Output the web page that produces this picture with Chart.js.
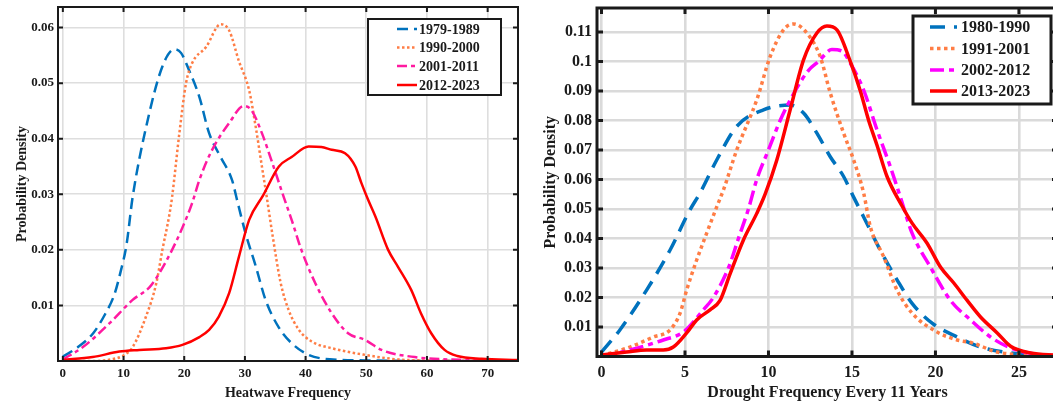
<!DOCTYPE html>
<html>
<head>
<meta charset="utf-8">
<script src="https://cdn.jsdelivr.net/npm/chart.js@4.4.1/dist/chart.umd.min.js"></script>
<style>
  html, body { margin: 0; padding: 0; background: #fff; overflow: hidden; width: 1053px; height: 404px; }
  #hwChart { position: absolute; left: 0; top: 0; }
  #drChart { position: absolute; left: 530px; top: 0; }
</style>
</head>
<body>
<canvas id="hwChart" width="530" height="404"></canvas>
<canvas id="drChart" width="530" height="404"></canvas>
<script>
// ---- left panel: heatwave frequency ----
const hwLabels = ['1979-1989', '1990-2000', '2001-2011', '2012-2023'];
const hwXTicks = [0, 10, 20, 30, 40, 50, 60, 70];
const hwYTicks = [0.01, 0.02, 0.03, 0.04, 0.05, 0.06];

const hw1X = [0, 2.5, 5, 7, 8.5, 9.5, 10.5, 11.5, 13.7, 16.4, 18.4, 19.5, 20.8, 22.5, 24.1, 26, 27.9, 28.7, 30.1, 31.8, 33.4, 35.6, 37.7, 40.5, 44, 50, 60, 75];
const hw1Y = [0.0008, 0.0025, 0.005, 0.0085, 0.012, 0.016, 0.021, 0.0295, 0.042, 0.053, 0.0561, 0.0554, 0.0523, 0.0475, 0.041, 0.0367, 0.0325, 0.029, 0.023, 0.017, 0.011, 0.006, 0.0032, 0.0011, 0.0003, 0.0001, 0, 0];

const hw2X = [0, 5, 8, 10, 11.5, 13.7, 15.4, 16.4, 17.5, 18, 19.2, 20.3, 21.3, 23.6, 26, 27.4, 29, 30.7, 31.8, 32.8, 33.6, 34.5, 35.9, 37.2, 38.9, 41, 44.3, 49.8, 55, 60, 75];
const hw2Y = [0, 0, 0.0003, 0.001, 0.0025, 0.008, 0.014, 0.02, 0.026, 0.0295, 0.041, 0.05, 0.0536, 0.0565, 0.0606, 0.0595, 0.054, 0.0487, 0.042, 0.035, 0.0295, 0.023, 0.014, 0.0092, 0.0056, 0.0035, 0.0023, 0.0011, 0.0003, 0.0001, 0];

const hw3X = [0, 3.3, 7.7, 11.5, 14.3, 15.9, 18, 19.7, 21.3, 22.5, 24.6, 27.4, 29.8, 31.1, 32.8, 34.4, 36.4, 37.7, 39.3, 41.6, 44.3, 47, 49.8, 52.5, 58, 66, 75];
const hw3Y = [0.0003, 0.0025, 0.0068, 0.011, 0.0133, 0.0158, 0.02, 0.024, 0.0284, 0.0326, 0.038, 0.0428, 0.0459, 0.0451, 0.041, 0.036, 0.0295, 0.0254, 0.02, 0.014, 0.0086, 0.005, 0.0038, 0.002, 0.0007, 0.0002, 0];

const hw4X = [0, 4.9, 9.3, 12.6, 17, 19.7, 22.5, 24.1, 25.7, 27.4, 29, 30.7, 33, 35.6, 37.7, 40.5, 42.6, 44.3, 46.5, 48.2, 49.2, 50.3, 51.5, 53.6, 55.2, 57.4, 59, 60.7, 62.9, 65, 69, 75];
const hw4Y = [0.0002, 0.0007, 0.0017, 0.002, 0.0023, 0.0029, 0.0043, 0.0056, 0.008, 0.0122, 0.0187, 0.0254, 0.0298, 0.035, 0.0367, 0.0386, 0.0385, 0.038, 0.0374, 0.035, 0.032, 0.029, 0.026, 0.02, 0.017, 0.0128, 0.0086, 0.005, 0.002, 0.0009, 0.0004, 0.0002];

// ---- right panel: drought frequency ----
const drLabels = ['1980-1990', '1991-2001', '2002-2012', '2013-2023'];
const drXTicks = [0, 5, 10, 15, 20, 25];
const drYTicks = [0.01, 0.02, 0.03, 0.04, 0.05, 0.06, 0.07, 0.08, 0.09, 0.1, 0.11];

const dr1X = [0, 1.1, 2.7, 4.1, 5.3, 5.9, 6.9, 8.1, 9.7, 11.3, 12.1, 12.9, 13.7, 14.5, 15.1, 15.7, 16.7, 17.7, 18.6, 19.8, 21.3, 22.7, 24.1, 27.3];
const dr1Y = [0.0015, 0.009, 0.0225, 0.036, 0.0497, 0.0554, 0.0666, 0.078, 0.0836, 0.0852, 0.0825, 0.0757, 0.0677, 0.061, 0.054, 0.0473, 0.036, 0.026, 0.018, 0.0113, 0.0066, 0.0032, 0.0015, 0.0002];

const dr2X = [0, 1.7, 3.1, 4.1, 4.7, 5.1, 5.7, 6.3, 6.9, 7.3, 8.1, 9.3, 10.1, 10.9, 11.5, 12.3, 13.1, 13.7, 14.5, 15.1, 15.7, 16.1, 16.9, 17.7, 18.6, 20.1, 21.3, 22.2, 23.7, 25.6, 27.3];
const dr2Y = [0.0003, 0.0032, 0.0066, 0.009, 0.0146, 0.0225, 0.0327, 0.0418, 0.0507, 0.0564, 0.07, 0.087, 0.1016, 0.1107, 0.1127, 0.1096, 0.1016, 0.0893, 0.0757, 0.0666, 0.0554, 0.044, 0.0338, 0.0225, 0.0147, 0.0083, 0.0056, 0.0046, 0.0015, 0.0005, 0.0001];

const dr3X = [0, 1.7, 3.7, 4.9, 6.1, 6.7, 7.6, 8.2, 8.8, 9.3, 10.0, 10.7, 11.6, 12.4, 13.0, 13.8, 14.4, 14.9, 15.7, 16.5, 17.3, 17.9, 18.6, 19.7, 20.9, 22.1, 23.3, 24.5, 26, 27.3];
const dr3Y = [0, 0.0022, 0.0056, 0.0083, 0.0158, 0.02, 0.03, 0.04, 0.05, 0.06, 0.07, 0.08, 0.09, 0.097, 0.1, 0.104, 0.1035, 0.0994, 0.0903, 0.0768, 0.0643, 0.054, 0.0418, 0.0303, 0.019, 0.0124, 0.0066, 0.0029, 0.0008, 0.0002];

const dr4X = [0, 1.5, 2.7, 3.7, 4.3, 5.1, 5.7, 6.5, 7.1, 7.7, 8.5, 9.3, 9.8, 10.5, 11.3, 12.1, 12.9, 13.5, 14.1, 14.9, 15.5, 16.0, 16.5, 17.1, 18.0, 18.6, 19.5, 20.3, 21.1, 21.9, 22.7, 23.7, 24.5, 25.7, 27.3];
const dr4Y = [0.0005, 0.0015, 0.0022, 0.0022, 0.0032, 0.008, 0.0124, 0.0158, 0.019, 0.028, 0.0395, 0.0485, 0.055, 0.0666, 0.0836, 0.1005, 0.1096, 0.112, 0.1107, 0.1, 0.09, 0.08, 0.0716, 0.061, 0.051, 0.0452, 0.0384, 0.0303, 0.0249, 0.019, 0.0134, 0.008, 0.0035, 0.0012, 0.0004];

const serif = 'Liberation Serif';
const inkColor = '#1a1a1a';

function pts(xs, ys) {
    return xs.map((x, i) => ({ x: x, y: ys[i] }));
}

function line(label, xs, ys, color, dash, width, order) {
    return {
        label: label,
        data: pts(xs, ys),
        borderColor: color,
        borderDash: dash,
        borderWidth: width,
        borderCapStyle: 'butt',
        pointRadius: 0,
        fill: false,
        cubicInterpolationMode: 'monotone',
        order: order
    };
}

// matlab style box with inward ticks on all sides
function boxPlugin(frameWidth, tickLen) {
    return {
        id: 'boxFrame',
        afterDatasetsDraw(chart) {
            const ctx = chart.ctx;
            const a = chart.chartArea;
            const xs = chart.scales.x, ys = chart.scales.y;
            ctx.save();
            ctx.strokeStyle = inkColor;
            ctx.lineWidth = frameWidth;
            ctx.beginPath();
            xs.ticks.forEach(t => {
                const px = xs.getPixelForValue(t.value);
                ctx.moveTo(px, a.bottom); ctx.lineTo(px, a.bottom - tickLen);
                ctx.moveTo(px, a.top); ctx.lineTo(px, a.top + tickLen);
            });
            ys.ticks.forEach(t => {
                const py = ys.getPixelForValue(t.value);
                ctx.moveTo(a.left, py); ctx.lineTo(a.left + tickLen, py);
                ctx.moveTo(a.right, py); ctx.lineTo(a.right - tickLen, py);
            });
            ctx.stroke();
            ctx.strokeRect(a.left, a.top, a.right - a.left, a.bottom - a.top);
            ctx.restore();
        }
    };
}

function legendPlugin(cfg) {
    return {
        id: 'boxLegend',
        afterDraw(chart) {
            const ctx = chart.ctx;
            ctx.save();
            ctx.fillStyle = '#fff';
            ctx.fillRect(cfg.x, cfg.y, cfg.w, cfg.h);
            ctx.lineWidth = cfg.border;
            ctx.strokeStyle = inkColor;
            ctx.strokeRect(cfg.x, cfg.y, cfg.w, cfg.h);
            ctx.font = 'bold ' + cfg.fontSize + 'px "' + serif + '"';
            ctx.textBaseline = 'middle';
            ctx.textAlign = 'left';
            chart.data.datasets.forEach((ds, i) => {
                const y = cfg.rows[i];
                ctx.beginPath();
                ctx.setLineDash(ds.borderDash || []);
                ctx.lineWidth = ds.borderWidth;
                ctx.strokeStyle = ds.borderColor;
                ctx.moveTo(cfg.lineFrom, y);
                ctx.lineTo(cfg.lineTo, y);
                ctx.stroke();
                ctx.setLineDash([]);
                ctx.fillStyle = inkColor;
                ctx.fillText(ds.label, cfg.textX, y + 1);
            });
            ctx.restore();
        }
    };
}

function axisFont(size) {
    return { family: serif, size: size, weight: 'bold' };
}

function fmt(v) {
    return String(+v.toFixed(3));
}

// keep chart area where the layout padding puts it
function fixX(h) {
    return s => { s.height = h; s.paddingLeft = 0; s.paddingRight = 0; };
}
function fixY(w) {
    return s => { s.width = w; s.paddingTop = 0; s.paddingBottom = 0; };
}

// left chart
new Chart(document.getElementById('hwChart'), {
    type: 'line',
    data: {
        datasets: [
            line(hwLabels[0], hw1X, hw1Y, '#0072BD', [11, 6], 2.5, 4),
            line(hwLabels[1], hw2X, hw2Y, '#FF7D45', [2.5, 2.5], 2.5, 3),
            line(hwLabels[2], hw3X, hw3Y, '#FF1AA0', [10, 4, 4, 4], 2.5, 2),
            line(hwLabels[3], hw4X, hw4Y, '#FF0000', [], 2.5, 1)
        ]
    },
    options: {
        responsive: false,
        animation: false,
        devicePixelRatio: 1,
        layout: { padding: { left: 0, top: 7, right: 12, bottom: 0 } },
        plugins: { legend: { display: false }, tooltip: { enabled: false } },
        scales: {
            x: {
                type: 'linear',
                min: -0.8,
                max: 75,
                afterBuildTicks: s => { s.ticks = hwXTicks.map(v => ({ value: v })); },
                afterFit: fixX(43),
                grid: { color: '#dedede', lineWidth: 1.6, drawTicks: false },
                border: { display: false },
                ticks: { padding: 5, color: inkColor, font: axisFont(13), maxRotation: 0, autoSkip: false, callback: v => fmt(v) },
                title: { display: true, text: 'Heatwave Frequency', color: inkColor, font: axisFont(14), padding: { top: 0, bottom: 2.6 } }
            },
            y: {
                type: 'linear',
                min: 0,
                max: 0.0637,
                afterBuildTicks: s => { s.ticks = hwYTicks.map(v => ({ value: v })); },
                afterFit: fixY(58),
                grid: { color: '#dedede', lineWidth: 1.6, drawTicks: false },
                border: { display: false },
                ticks: { padding: 4, color: inkColor, font: axisFont(13), autoSkip: false, callback: v => fmt(v) },
                title: { display: true, text: 'Probability Density', color: inkColor, font: axisFont(14), padding: { top: 13.6, bottom: 0 } }
            }
        }
    },
    plugins: [
        boxPlugin(2, 5),
        legendPlugin({ x: 368, y: 19, w: 133, h: 76, border: 2, fontSize: 14, rows: [29, 47.5, 66, 85], lineFrom: 397, lineTo: 417, textX: 419 })
    ]
});

// right chart
new Chart(document.getElementById('drChart'), {
    type: 'line',
    data: {
        datasets: [
            line(drLabels[0], dr1X, dr1Y, '#0072BD', [15, 9], 3.5, 4),
            line(drLabels[1], dr2X, dr2Y, '#FF7D45', [3.5, 3.5], 3.5, 3),
            line(drLabels[2], dr3X, dr3Y, '#FF00FF', [14, 5, 5, 5], 3.5, 2),
            line(drLabels[3], dr4X, dr4Y, '#FF0000', [], 3.5, 1)
        ]
    },
    options: {
        responsive: false,
        animation: false,
        devicePixelRatio: 1,
        layout: { padding: { left: 0, top: 8, right: 2, bottom: 0 } },
        plugins: { legend: { display: false }, tooltip: { enabled: false } },
        scales: {
            x: {
                type: 'linear',
                min: -0.27,
                max: 27.34,
                afterBuildTicks: s => { s.ticks = drXTicks.map(v => ({ value: v })); },
                afterFit: fixX(47.5),
                grid: { color: '#dadada', lineWidth: 2.6, drawTicks: false },
                border: { display: false },
                ticks: { padding: 7, color: inkColor, font: axisFont(16), maxRotation: 0, autoSkip: false, callback: v => fmt(v) },
                title: { display: true, text: 'Drought Frequency Every 11 Years', color: inkColor, font: axisFont(16), padding: { top: 0, bottom: 1.4 } }
            },
            y: {
                type: 'linear',
                min: 0,
                max: 0.1181,
                afterBuildTicks: s => { s.ticks = drYTicks.map(v => ({ value: v })); },
                afterFit: fixY(67),
                grid: { color: '#dadada', lineWidth: 2.6, drawTicks: false },
                border: { display: false },
                ticks: { padding: 5, color: inkColor, font: axisFont(16), autoSkip: false, callback: v => fmt(v) },
                title: { display: true, text: 'Probability Density', color: inkColor, font: axisFont(16), padding: { top: 11.4, bottom: 0 } }
            }
        }
    },
    plugins: [
        boxPlugin(3, 6),
        legendPlugin({ x: 383, y: 16, w: 138, h: 88, border: 3, fontSize: 16, rows: [27, 48.5, 70, 91], lineFrom: 400, lineTo: 427, textX: 431 })
    ]
});
</script>
</body>
</html>
